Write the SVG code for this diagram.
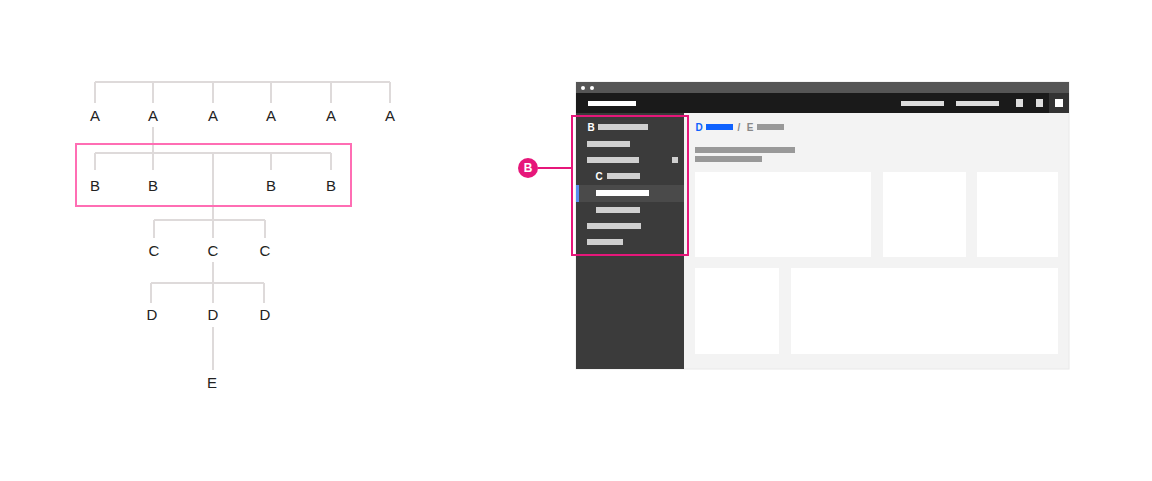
<svg xmlns="http://www.w3.org/2000/svg" width="1152" height="481" viewBox="0 0 1152 481">
<style>
.lbl{font-family:"Liberation Sans",Arial,sans-serif;font-size:15px;fill:#222;text-anchor:middle;dominant-baseline:central}
.tree{stroke:#dedada;stroke-width:2;fill:none}
.bar{fill:#cfcfcf}
.sb{font-family:"Liberation Sans",Arial,sans-serif;font-size:10px;font-weight:bold;fill:#fff;text-anchor:middle;dominant-baseline:central}
.gbar{fill:#999}
.card{fill:#fff}
</style>
<rect width="1152" height="481" fill="#fff"/>
<g id="connectors">
<path class="tree" d="M95,82H390M95,82V103M153,82V103M213,82V103M271,82V103M331,82V103M390,82V103"/>
<path class="tree" d="M153,127V153M95,153H331M95,153V170M153,153V170M271,153V170M331,153V170M213,153V220"/>
<path class="tree" d="M154,220H265M154,220V238M265,220V238M213,220V238"/>
<path class="tree" d="M213,262V283M151,283H264M151,283V303M264,283V303M213,283V303"/>
<path class="tree" d="M213,327V370"/>
<path d="M538,168H571" stroke="#e6177a" stroke-width="2"/>
</g>
<g id="nodes-a">
<text class="lbl" x="95" y="115">A</text>
<text class="lbl" x="153" y="115">A</text>
<text class="lbl" x="213" y="115">A</text>
<text class="lbl" x="271" y="115">A</text>
<text class="lbl" x="331" y="115">A</text>
<text class="lbl" x="390" y="115">A</text>
</g>
<g id="nodes-b">
<rect x="76" y="144" width="275" height="62" fill="none" stroke="#ff6eb4" stroke-width="2"/>
<text class="lbl" x="95" y="185">B</text>
<text class="lbl" x="153" y="185">B</text>
<text class="lbl" x="271" y="185">B</text>
<text class="lbl" x="331" y="185">B</text>
</g>
<g id="nodes-c">
<text class="lbl" x="154" y="250">C</text>
<text class="lbl" x="213" y="250">C</text>
<text class="lbl" x="265" y="250">C</text>
</g>
<g id="nodes-d">
<text class="lbl" x="152" y="314">D</text>
<text class="lbl" x="213" y="314">D</text>
<text class="lbl" x="265" y="314">D</text>
</g>
<g id="node-e">
<text class="lbl" x="212" y="382">E</text>
</g>
<g id="window">
<rect x="576" y="82" width="493" height="287" fill="#f3f3f3" stroke="#e8e8e8" stroke-width="1"/>
<rect x="576" y="82" width="493" height="11" fill="#555"/>
<circle cx="583" cy="88" r="2" fill="#fff"/>
<circle cx="592" cy="88" r="2" fill="#fff"/>
<rect x="576" y="93" width="493" height="20" fill="#1a1a1a"/>
<rect x="588" y="101" width="48" height="5" fill="#fff"/>
<rect x="901" y="101" width="43" height="5" fill="#ddd"/>
<rect x="956" y="101" width="43" height="5" fill="#ddd"/>
<rect x="1016" y="99" width="7" height="8" fill="#ddd"/>
<rect x="1036" y="99" width="7" height="8" fill="#ddd"/>
<rect x="1049" y="93" width="20" height="20" fill="#333"/>
<rect x="1055" y="99" width="8" height="8" fill="#fff"/>
</g>
<g id="sidebar">
<rect x="576" y="113" width="108" height="256" fill="#3b3b3b"/>
<rect x="576" y="185" width="108" height="17" fill="#4a4a4a"/>
<rect x="576" y="185" width="3" height="17" fill="#5b8def"/>
<text class="sb" x="591" y="127">B</text>
<rect class="bar" x="598" y="124" width="50" height="6"/>
<rect class="bar" x="587" y="141" width="43" height="6"/>
<rect class="bar" x="587" y="157" width="52" height="6"/>
<rect class="bar" x="672" y="157" width="6" height="6"/>
<text class="sb" x="599" y="176">C</text>
<rect class="bar" x="607" y="173" width="33" height="6"/>
<rect x="596" y="190" width="53" height="6" fill="#fff"/>
<rect class="bar" x="596" y="207" width="44" height="6"/>
<rect class="bar" x="587" y="223" width="54" height="6"/>
<rect class="bar" x="587" y="239" width="36" height="6"/>
</g>
<g id="content">
<text x="699" y="127" font-family="Liberation Sans,Arial,sans-serif" font-size="10" font-weight="bold" fill="#0f62fe" text-anchor="middle" dominant-baseline="central">D</text>
<rect x="706" y="124" width="27" height="6" fill="#0f62fe"/>
<text x="739" y="127" font-family="Liberation Sans,Arial,sans-serif" font-size="10" font-weight="bold" fill="#888" text-anchor="middle" dominant-baseline="central">/</text>
<text x="750" y="127" font-family="Liberation Sans,Arial,sans-serif" font-size="10" font-weight="bold" fill="#888" text-anchor="middle" dominant-baseline="central">E</text>
<rect class="gbar" x="757" y="124" width="27" height="6"/>
<rect class="gbar" x="695" y="147" width="100" height="6"/>
<rect class="gbar" x="695" y="156" width="67" height="6"/>
<rect class="card" x="695" y="172" width="176" height="85"/>
<rect class="card" x="883" y="172" width="83" height="85"/>
<rect class="card" x="977" y="172" width="81" height="85"/>
<rect class="card" x="695" y="268" width="84" height="86"/>
<rect class="card" x="791" y="268" width="267" height="86"/>
</g>
<g id="callout-b">
<rect x="572" y="116" width="116" height="139" fill="none" stroke="#e6177a" stroke-width="2"/>
<circle cx="528" cy="168" r="10" fill="#e6177a"/>
<text x="528" y="168" font-family="Liberation Sans,Arial,sans-serif" font-size="12" font-weight="bold" fill="#fff" text-anchor="middle" dominant-baseline="central">B</text>
</g>
</svg>
